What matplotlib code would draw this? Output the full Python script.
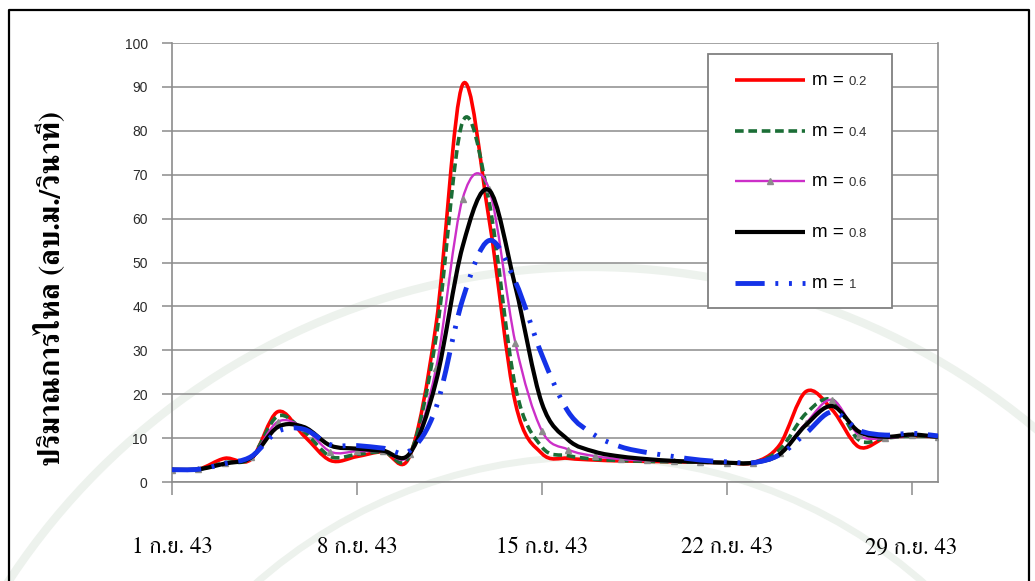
import numpy as np
import pandas as pd
import matplotlib
matplotlib.use('Agg')
import matplotlib.pyplot as plt
import matplotlib.dates as mdates
from matplotlib.path import Path
from matplotlib.patches import PathPatch, Rectangle, Circle
from matplotlib.lines import Line2D

# ปริมาณการไหลรายวัน ก.ย. 2543 (ลบ.ม./วินาที)
dates = pd.date_range('2000-09-01', '2000-09-30', freq='D')
q_m02 = [2.8, 2.9, 5.4, 5.2, 16.0, 10.5, 4.9, 5.8, 6.9, 5.9, 36.0, 90.5, 60.0, 18.0, 6.5,
         5.4, 5.0, 4.8, 4.7, 4.6, 4.5, 4.4, 4.4, 8.4, 20.6, 16.4, 8.0, 10.0, 10.5, 10.3]
q_m04 = [2.8, 2.9, 4.4, 5.5, 15.0, 11.5, 5.8, 6.3, 6.9, 6.1, 33.0, 82.0, 64.0, 21.7, 8.0,
         6.0, 5.2, 4.9, 4.7, 4.6, 4.5, 4.4, 4.4, 7.3, 15.6, 18.7, 9.6, 10.0, 10.5, 10.3]
q_m06 = [2.8, 2.9, 4.3, 5.6, 13.7, 12.3, 6.9, 7.0, 7.0, 6.3, 26.0, 64.5, 66.8, 31.7, 11.7,
         7.4, 5.9, 5.2, 4.9, 4.7, 4.5, 4.4, 4.4, 6.5, 13.4, 18.7, 10.7, 10.0, 10.6, 10.3]
q_m08 = [2.8, 2.9, 4.2, 5.6, 12.5, 12.5, 8.3, 7.6, 7.1, 6.5, 23.0, 53.6, 66.5, 44.5, 18.0,
         9.6, 6.9, 5.8, 5.2, 4.8, 4.6, 4.4, 4.4, 6.3, 13.0, 17.3, 11.5, 10.3, 10.8, 10.3]
q_m10 = [2.8, 2.9, 4.2, 5.8, 11.5, 12.0, 8.5, 8.3, 7.7, 7.1, 17.0, 41.5, 55.0, 45.6, 29.0,
         16.0, 10.7, 8.0, 6.7, 5.8, 5.0, 4.6, 4.4, 6.2, 11.1, 16.0, 11.8, 10.7, 11.1, 10.5]
m_values = ['0.2', '0.4', '0.6', '0.8', '1']
tick_idx = [0, 7, 14, 21, 28]

series = [q_m02, q_m04, q_m06, q_m08, q_m10]
styles = [
    dict(color='#FF0000', lw=2.6, ls='-'),
    dict(color='#1B6E36', lw=2.6, ls=(0, (2.4, 1.3))),
    dict(color='#CC2FC8', lw=1.7, ls='-'),
    dict(color='#000000', lw=3.0, ls='-'),
    dict(color='#1432E8', lw=3.5, ls=(0, (6, 2.2, 0.6, 2.2, 0.6, 2.2))),
]

thai_serif = ['FreeSerif', 'Taviraj']


def smooth_path(x, y, k=1 / 6):
    # เส้นโค้งแบบ smoothed line: Bezier ผ่านทุกจุดข้อมูล
    x = np.asarray(x, float)
    y = np.asarray(y, float)
    n = len(x)
    verts = [(x[0], y[0])]
    codes = [Path.MOVETO]
    for i in range(n - 1):
        i0 = max(i - 1, 0)
        i3 = min(i + 2, n - 1)
        c1 = (x[i] + (x[i + 1] - x[i0]) * k, y[i] + (y[i + 1] - y[i0]) * k)
        c2 = (x[i + 1] - (x[i3] - x[i]) * k, y[i + 1] - (y[i3] - y[i]) * k)
        verts += [c1, c2, (x[i + 1], y[i + 1])]
        codes += [Path.CURVE4] * 3
    return Path(verts, codes)


fig = plt.figure(figsize=(10.35, 5.81), dpi=100)

# พื้นหลัง: ตราลายน้ำจาง ๆ และกรอบรูป
bg = fig.add_axes([0, 0, 1, 1], zorder=0)
bg.set_xlim(0, 1035)
bg.set_ylim(581, 0)
bg.axis('off')
for r, w in [(695, 6), (505, 5)]:
    bg.add_patch(Circle((590, 962), r, fill=False, lw=w, color='#EDF2ED'))
bg.plot([9, 9, 1029, 1029], [600, 10, 10, 600], color='black', lw=1.6)

ax = fig.add_axes([172 / 1035, 1 - 482 / 581, 766 / 1035, 439 / 581], zorder=1)
ax.patch.set_visible(False)

x = mdates.date2num(dates.to_pydatetime())
for i, (q, st) in enumerate(zip(series, styles)):
    ax.add_patch(PathPatch(smooth_path(x, q), fill=False, edgecolor=st['color'],
                           lw=st['lw'], ls=st['ls'], capstyle='butt', zorder=3 + i))
    if i == 2:
        ax.plot(x, q, ls='none', marker='^', ms=4.5, color='#8C8C8C', zorder=3.5 + i)

ax.set_xlim(x[0], x[-1])
ax.set_ylim(0, 100)
ax.set_yticks(range(0, 101, 10))
ax.set_xticks(x[tick_idx])
ax.set_xticklabels([f'{dates[i].day} ก.ย. 43' for i in tick_idx],
                   family=thai_serif, fontsize=16.5)
for lab in ax.get_yticklabels():
    lab.set_family('Liberation Sans')
    lab.set_fontsize(10)
    lab.set_color('#2b2b2b')

ax.yaxis.grid(True, color='#8C8C8C', lw=1.1)
ax.set_axisbelow(True)
ax.spines['top'].set_visible(False)
for s in ['left', 'bottom', 'right']:
    ax.spines[s].set_color('#8C8C8C')
    ax.spines[s].set_linewidth(1.2)
ax.tick_params(axis='y', direction='out', length=7, width=1.1, color='#8C8C8C', pad=10.5)
ax.tick_params(axis='x', direction='out', length=9.5, width=1.1, color='#8C8C8C', pad=30)

fig.text(50 / 1035, 1 - 289 / 581, 'ปริมาณการไหล (ลบ.ม./วินาที)', rotation=90,
         ha='center', va='center', family=thai_serif, weight='bold', fontsize=21.3)

# คำอธิบายสัญลักษณ์
ax.add_patch(Rectangle((0.6997, 0.396), 0.2403, 0.579, transform=ax.transAxes,
                       facecolor='white', edgecolor='#808080', lw=1.3, zorder=10))
rows = [0.9157, 0.7995, 0.6856, 0.5695, 0.4533]
for yy, st, mv, i in zip(rows, styles, m_values, range(5)):
    ax.add_line(Line2D([0.735, 0.8264], [yy, yy], transform=ax.transAxes, color=st['color'],
                       lw=st['lw'], ls=st['ls'], solid_capstyle='butt',
                       dash_capstyle='butt', zorder=11))
    if i == 2:
        ax.add_line(Line2D([0.7807], [yy], transform=ax.transAxes, ls='none', marker='^',
                           ms=4.5, color='#8C8C8C', zorder=12))
    ax.text(0.8355, yy - 0.0114, 'm =', transform=ax.transAxes, fontsize=13.5,
            family='Liberation Sans', va='baseline', zorder=12)
    ax.text(0.8835, yy - 0.0114, mv, transform=ax.transAxes, fontsize=9.5,
            family='Liberation Sans', color='#333333', va='baseline', zorder=12)

fig.savefig('out.png', dpi=100)
